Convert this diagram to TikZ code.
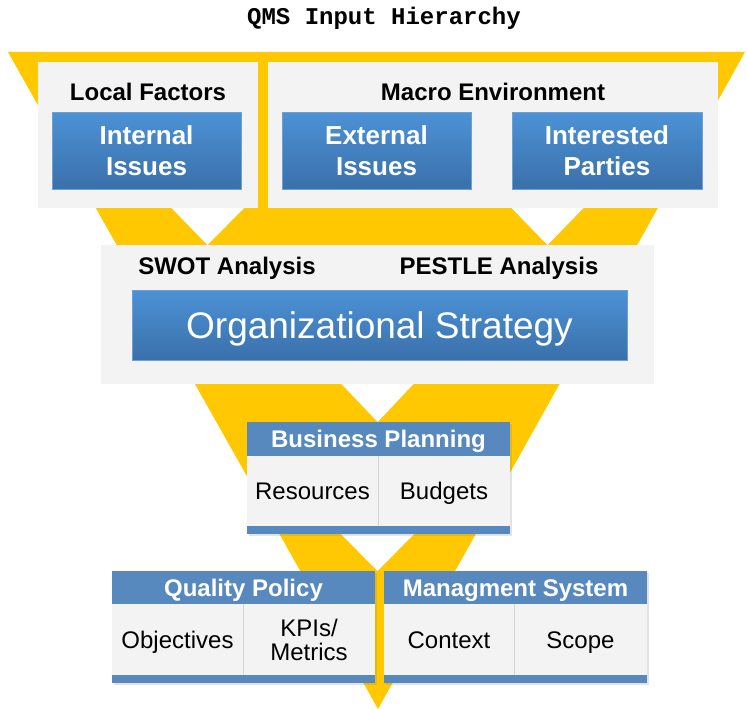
\documentclass[tikz,border=0pt]{standalone}
\usepackage{fontspec}
\usetikzlibrary{shadows}
\setmainfont{Liberation Sans}
\newfontfamily\titlefont{Liberation Mono}
\definecolor{qyellow}{RGB}{255,200,0}
\definecolor{panelgray}{RGB}{243,243,243}
\definecolor{blueTop}{RGB}{76,146,214}
\definecolor{blueBot}{RGB}{58,112,170}
\definecolor{blueEdge}{RGB}{110,160,212}
\definecolor{headblue}{RGB}{88,137,190}
\definecolor{divgray}{RGB}{212,212,212}
\tikzset{
  panel/.style={fill=panelgray, draw=none, inner sep=0pt},
  boxbg/.style={fill=panelgray, draw=none, inner sep=0pt,
    drop shadow={opacity=0.22, shadow xshift=2pt, shadow yshift=-1.5pt}},
  bluebox/.style={top color=blueTop, bottom color=blueBot, draw=blueEdge, line width=0.8pt,
    inner sep=0pt, text=white, align=center, font=\fontsize{26}{31}\selectfont\bfseries},
  lbl/.style={anchor=base, inner sep=0pt, font=\fontsize{24}{28}\selectfont\bfseries},
  head/.style={fill=headblue, inner sep=0pt, text=white, font=\fontsize{24}{28}\selectfont\bfseries,
    text height=17pt, text depth=0pt},
  cell/.style={fill=panelgray, inner sep=0pt, font=\fontsize{24}{24}\selectfont, align=center},
  oneline/.style={text height=17pt, text depth=0pt},
  strip/.style={fill=headblue, inner sep=0pt},
  notch/.style={fill=white, draw=none},
  divider/.style={draw=divgray, line width=1pt},
}
\begin{document}
\begin{tikzpicture}[x=1pt,y=-1pt]
\useasboundingbox (0,0) rectangle (747,709);
\fill[white] (0,0) rectangle (747,709);
% title
\node[font=\titlefont\bfseries\fontsize{24}{28}\selectfont, anchor=base, inner sep=0pt] (title) at (384,25) {QMS Input Hierarchy};
% funnel
\fill[qyellow] (8,52) -- (745,52) -- (378,709) -- cycle;
\fill[notch] (171.5,208) -- (207.5,245) -- (244,208) -- cycle;
\fill[notch] (511.5,208) -- (547.5,245) -- (583.5,208) -- cycle;
\fill[notch] (341.5,384) -- (377.7,422) -- (413.5,384) -- cycle;
\fill[notch] (340,533) -- (377.5,571) -- (415,533) -- cycle;
% top panels
\node[panel, minimum width=220pt, minimum height=146pt] (lf) at (148,135) {};
\node[panel, minimum width=450pt, minimum height=146pt] (me) at (493,135) {};
\node[lbl] (lft) at (148,100.5) {Local Factors};
\node[lbl] (met) at (493,100) {Macro Environment};
\node[bluebox, minimum width=189pt, minimum height=77pt] (ii) at (146.5,150.5) {Internal\\Issues};
\node[bluebox, minimum width=189pt, minimum height=77pt] (ei) at (376.5,150.5) {External\\Issues};
\node[bluebox, minimum width=190pt, minimum height=77pt] (ip) at (607,150.5) {Interested\\Parties};
% strategy panel
\node[panel, minimum width=553pt, minimum height=139pt] (sp) at (377.5,314.5) {};
\node[lbl] (swot) at (227,274.5) {SWOT Analysis};
\node[lbl] (pestle) at (499,274.5) {PESTLE Analysis};
\node[bluebox, minimum width=495pt, minimum height=70pt, font=\fontsize{37}{40}\selectfont, text height=26.5pt, text depth=0pt] (os) at (379.5,325) {Organizational Strategy};
% business planning
\node[boxbg, minimum width=263pt, minimum height=112pt] (bpbox) at (378.5,478) {};
\node[head, minimum width=263pt, minimum height=34pt] (bp) at (378.5,439) {Business Planning};
\node[cell, oneline, minimum width=131pt, minimum height=70pt] (res) at (312.5,491) {Resources};
\node[cell, oneline, minimum width=132pt, minimum height=70pt] (bud) at (444,491) {Budgets};
\node[strip, minimum width=263pt, minimum height=8pt] (bps) at (378.5,530) {};
\draw[divider] (res.north east) -- (res.south east);
% quality policy
\node[boxbg, minimum width=263pt, minimum height=112pt] (qpbox) at (243.5,627) {};
\node[head, minimum width=263pt, minimum height=33pt] (qp) at (243.5,587.5) {Quality Policy};
\node[cell, oneline, minimum width=131pt, minimum height=71pt] (obj) at (177.5,639.5) {Objectives};
\node[cell, minimum width=132pt, minimum height=71pt] (kpi) at (309,639.5) {KPIs/\\Metrics};
\node[strip, minimum width=263pt, minimum height=8pt] (qps) at (243.5,679) {};
\draw[divider] (obj.north east) -- (obj.south east);
% management system
\node[boxbg, minimum width=263pt, minimum height=112pt] (msbox) at (515.5,627) {};
\node[head, minimum width=263pt, minimum height=33pt] (ms) at (515.5,587.5) {Managment System};
\node[cell, oneline, minimum width=130pt, minimum height=71pt] (ctx) at (449,639.5) {Context};
\node[cell, oneline, minimum width=133pt, minimum height=71pt] (scp) at (580.5,639.5) {Scope};
\node[strip, minimum width=263pt, minimum height=8pt] (mss) at (515.5,679) {};
\draw[divider] (ctx.north east) -- (ctx.south east);
\end{tikzpicture}
\end{document}
